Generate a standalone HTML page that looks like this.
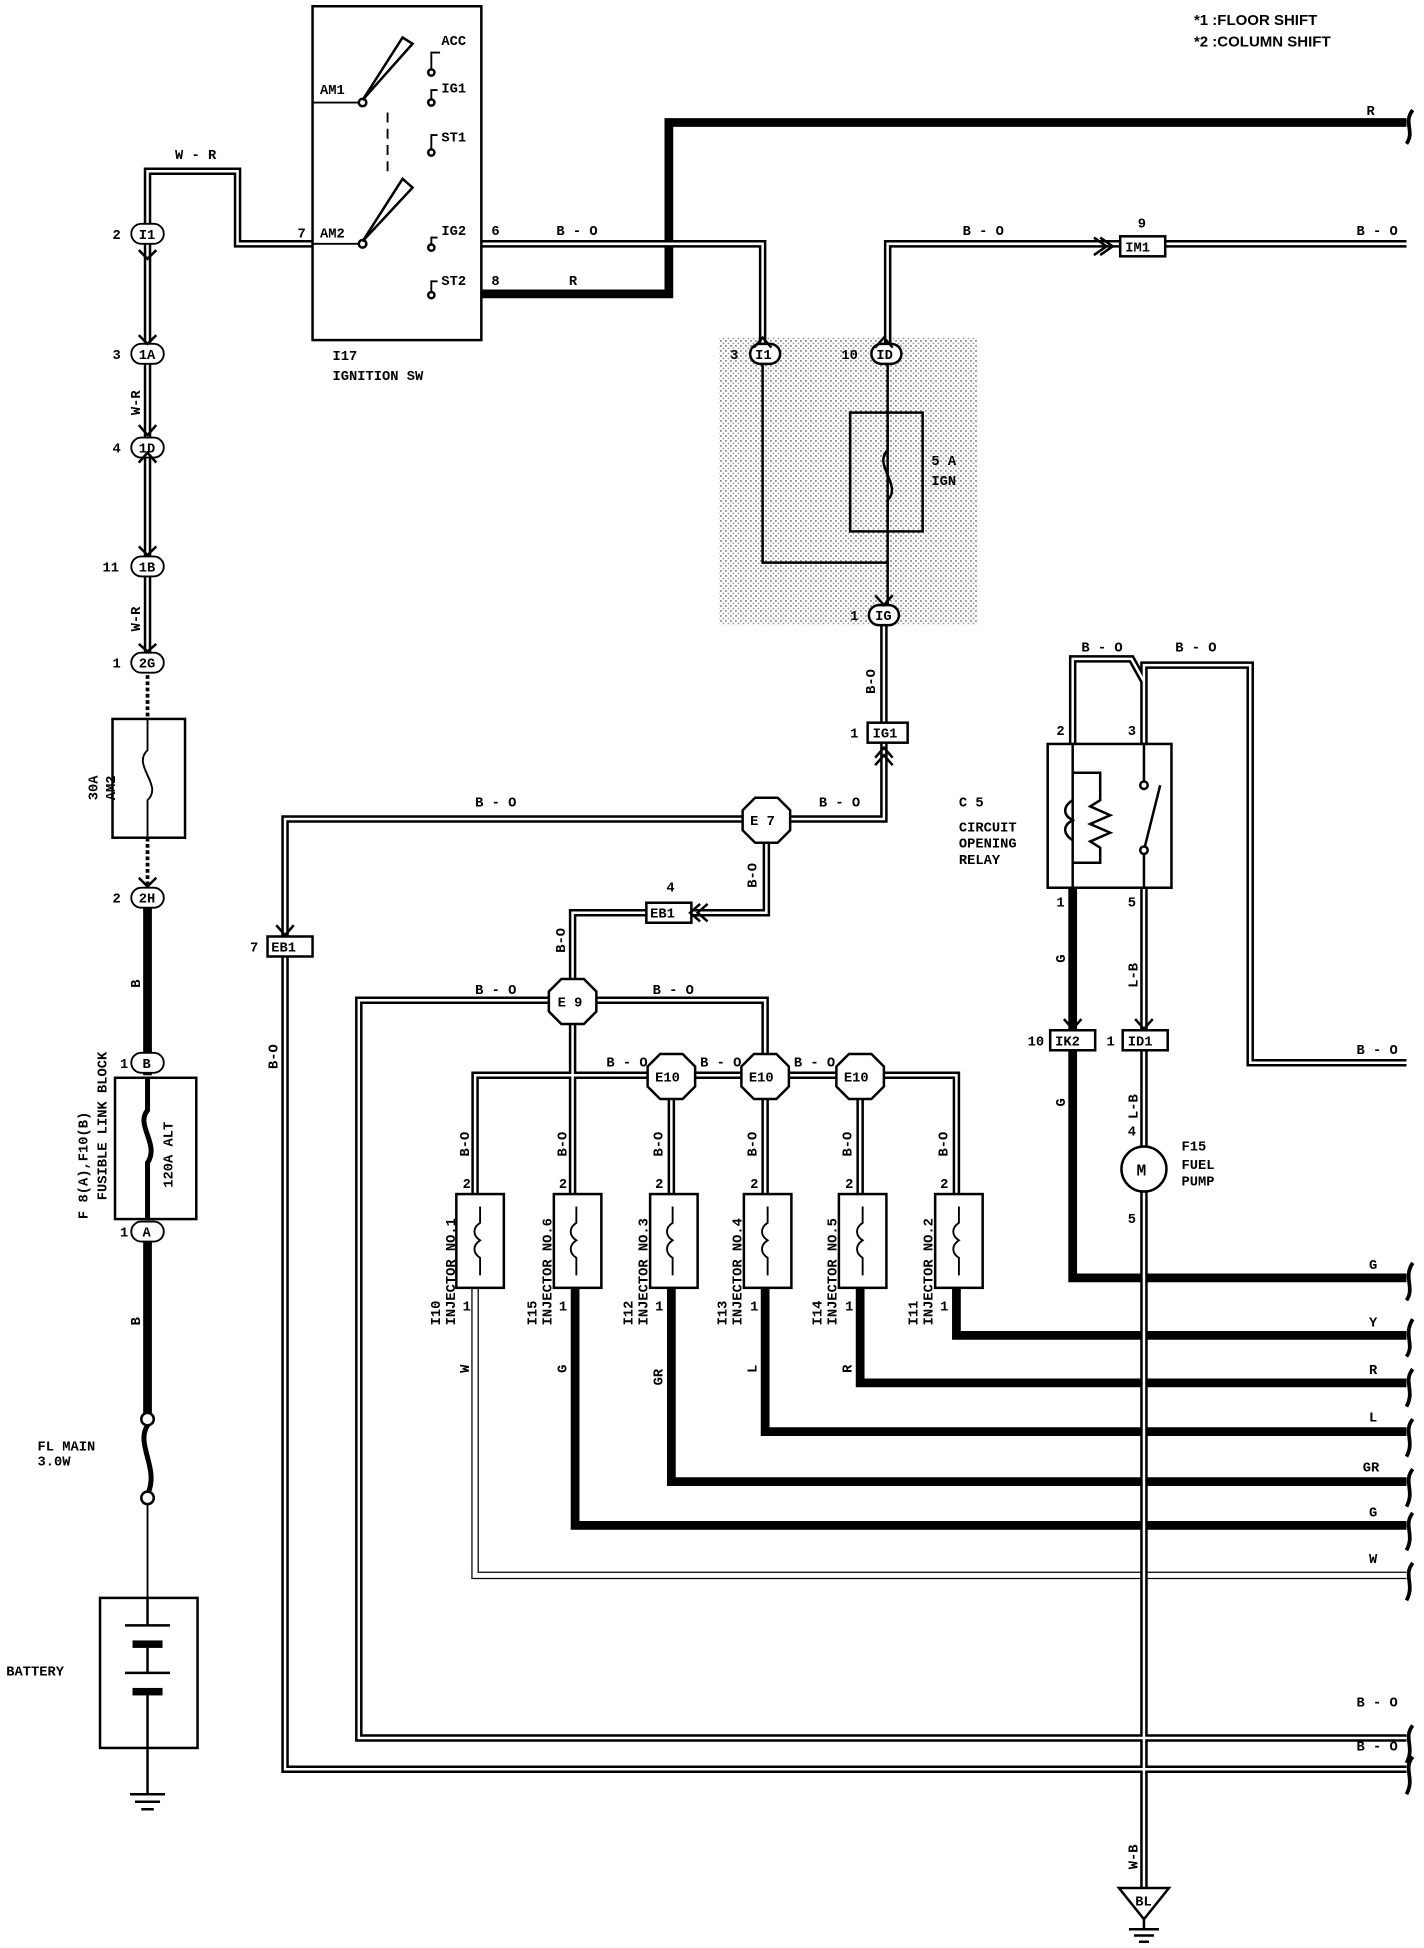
<!DOCTYPE html>
<html><head><meta charset="utf-8"><style>
html,body{margin:0;padding:0;background:#fff}
svg{display:block}
text{font-family:"Liberation Mono",monospace;font-weight:bold;font-size:11px;fill:#000}
.dw1{fill:none;stroke:#000;stroke-width:6}
.dw2{fill:none;stroke:#fff;stroke-width:2}
.tk{fill:none;stroke:#000;stroke-width:7}
.tn{fill:none;stroke:#000;stroke-width:1.5}
.bx{fill:#fff;stroke:#000;stroke-width:2}
</style></head><body>
<svg width="1424" height="1948" viewBox="0 0 1139 1558" preserveAspectRatio="none" xmlns="http://www.w3.org/2000/svg">
<defs>
<pattern id="dots" width="4" height="4" patternUnits="userSpaceOnUse"><rect width="4" height="4" fill="#fff"/><rect x="0" y="0" width="1.3" height="1.3" fill="#777"/><rect x="2" y="2" width="1.3" height="1.3" fill="#999"/></pattern>
<path id="w1" d="M250,195 H190 V137 H118 V530"/>
<path id="w2" d="M385,195 H610 V283"/>
<path id="w3" d="M710,283 V195 H1125"/>
<path id="w4" d="M707,492 V655 H228 V1415 H1125"/>
<path id="w5" d="M613,655 V730 H458 V800"/>
<path id="w6" d="M458,800 H287 V1390 H1125"/>
<path id="w7" d="M458,800 H612 V860"/>
<path id="w8" d="M458,800 V955"/>
<path id="w9" d="M380,955 V860 H765 V955"/>
<path id="w10" d="M537,860 V955 M612,860 V955 M688,860 V955"/>
<path id="w11" d="M858,595 V527 H905 L915,545 V595 M915,545 V532 H1000 V850 H1125"/>
<path id="w12" d="M915,710 V918"/>
<path id="w13" d="M915,952 V1510"/>
</defs>
<text x="955" y="20" style="font-family:'Liberation Sans',sans-serif;font-size:12px">*1 :FLOOR SHIFT</text>
<text x="955" y="37" style="font-family:'Liberation Sans',sans-serif;font-size:12px">*2 :COLUMN SHIFT</text>
<rect x="575" y="270" width="207" height="230" fill="url(#dots)"/>
<path class="tk" d="M385,235 H535 V98 H1125"/>
<text x="1093" y="92">R</text><text x="455" y="228">R</text><text x="393" y="228">8</text>
<path class="tk" d="M118,718 V860"/>
<path class="tk" d="M118,985 V1130"/>
<path class="tk" d="M858,710 V1022 H1125"/>
<path class="tk" d="M765,1030 V1068 H1125"/>
<path class="tk" d="M688,1030 V1106 H1125"/>
<path class="tk" d="M612,1030 V1145 H1125"/>
<path class="tk" d="M537,1030 V1185 H1125"/>
<path class="tk" d="M460,1030 V1220 H1125"/>
<path d="M380,1030 V1260 H1125" class="dw1"/><path d="M380,1030 V1260 H1125" class="dw2" style="stroke-width:4"/>
<g class="dw1"><use href="#w1"/><use href="#w2"/><use href="#w3"/><use href="#w4"/><use href="#w5"/><use href="#w6"/><use href="#w7"/><use href="#w8"/><use href="#w9"/><use href="#w10"/><use href="#w11"/><use href="#w12"/><use href="#w13"/></g>
<g class="dw2"><use href="#w1"/><use href="#w2"/><use href="#w3"/><use href="#w4"/><use href="#w5"/><use href="#w6"/><use href="#w7"/><use href="#w8"/><use href="#w9"/><use href="#w10"/><use href="#w11"/><use href="#w12"/><use href="#w13"/></g>
<path d="M118,530 V575 M118,670 V718" class="tn" style="stroke-width:3;stroke-dasharray:3 2"/>
<text x="140" y="127">W - R</text>
<text x="445" y="188">B - O</text><text x="770" y="188">B - O</text><text x="1085" y="188">B - O</text>
<text x="380" y="645">B - O</text><text x="655" y="645">B - O</text>
<text x="380" y="795">B - O</text><text x="522" y="795">B - O</text>
<text x="485" y="853">B - O</text><text x="560" y="853">B - O</text><text x="635" y="853">B - O</text>
<text x="865" y="521">B - O</text><text x="940" y="521">B - O</text>
<text x="1085" y="843">B - O</text>
<text x="1085" y="1365">B - O</text><text x="1085" y="1400">B - O</text>
<text x="1095" y="1015">G</text><text x="1095" y="1061">Y</text><text x="1095" y="1099">R</text><text x="1095" y="1137">L</text><text x="1090" y="1177">GR</text><text x="1095" y="1213">G</text><text x="1095" y="1250">W</text>
<g>
<text transform="translate(112,332) rotate(-90)">W-R</text>
<text transform="translate(112,505) rotate(-90)">W-R</text>
<text transform="translate(112,790) rotate(-90)">B</text>
<text transform="translate(112,1060) rotate(-90)">B</text>
<text transform="translate(222,855) rotate(-90)">B-O</text>
<text transform="translate(700,555) rotate(-90)">B-O</text>
<text transform="translate(605,710) rotate(-90)">B-O</text>
<text transform="translate(452,762) rotate(-90)">B-O</text>
<text transform="translate(852,770) rotate(-90)">G</text>
<text transform="translate(852,885) rotate(-90)">G</text>
<text transform="translate(910,790) rotate(-90)">L-B</text>
<text transform="translate(910,895) rotate(-90)">L-B</text>
<text transform="translate(910,1495) rotate(-90)">W-B</text>
<text transform="translate(375,925) rotate(-90)">B-O</text>
<text transform="translate(453,925) rotate(-90)">B-O</text>
<text transform="translate(530,925) rotate(-90)">B-O</text>
<text transform="translate(605,925) rotate(-90)">B-O</text>
<text transform="translate(681,925) rotate(-90)">B-O</text>
<text transform="translate(758,925) rotate(-90)">B-O</text>
<text transform="translate(375,1098) rotate(-90)">W</text>
<text transform="translate(453,1098) rotate(-90)">G</text>
<text transform="translate(530,1108) rotate(-90)">GR</text>
<text transform="translate(605,1098) rotate(-90)">L</text>
<text transform="translate(681,1098) rotate(-90)">R</text>
</g>
<rect class="bx" x="250" y="5" width="135" height="267"/>
<text x="256" y="75">AM1</text><text x="256" y="190">AM2</text><text x="238" y="190">7</text>
<path class="tn" d="M250,82 H288 M250,195 H288"/>
<circle cx="290" cy="82" r="3" class="bx"/><circle cx="290" cy="195" r="3" class="bx"/>
<path d="M290,80 L322,30 L330,35 Z M290,193 L322,143 L330,150 Z" fill="#fff" stroke="#000" stroke-width="2"/>
<path d="M310,90 V140" class="tn" style="stroke-dasharray:8 5"/>
<text x="353" y="36">ACC</text><text x="353" y="74">IG1</text><text x="353" y="113">ST1</text><text x="353" y="188">IG2</text><text x="353" y="228">ST2</text>
<path class="tn" d="M345,55 V42 H352 M345,80 V72 H350 M345,120 V108 H350 M345,198 V190 H350 M345,235 V225 H350"/>
<circle cx="345" cy="58" r="2.5" class="bx"/><circle cx="345" cy="82" r="2.5" class="bx"/><circle cx="345" cy="122" r="2.5" class="bx"/><circle cx="345" cy="198" r="2.5" class="bx"/><circle cx="345" cy="236" r="2.5" class="bx"/>
<text x="393" y="188">6</text>
<text x="266" y="288">I17</text><text x="266" y="304">IGNITION SW</text>
<g class="bx" style="stroke-width:1.5">
<rect x="105" y="179" width="26" height="16" rx="8"/><rect x="105" y="275" width="26" height="16" rx="8"/><rect x="105" y="350" width="26" height="16" rx="8"/><rect x="105" y="445" width="26" height="16" rx="8"/><rect x="105" y="522" width="26" height="16" rx="8"/><rect x="105" y="710" width="26" height="16" rx="8"/><rect x="105" y="842" width="26" height="16" rx="8"/><rect x="105" y="977" width="26" height="16" rx="8"/>
</g>
<text x="111" y="191">I1</text><text x="90" y="191">2</text>
<text x="111" y="287">1A</text><text x="90" y="287">3</text>
<text x="111" y="362">1D</text><text x="90" y="362">4</text>
<text x="111" y="457">1B</text><text x="82" y="457">11</text>
<text x="111" y="534">2G</text><text x="90" y="534">1</text>
<text x="111" y="722">2H</text><text x="90" y="722">2</text>
<text x="114" y="854">B</text><text x="96" y="854">1</text>
<text x="114" y="989">A</text><text x="96" y="989">1</text>
<rect class="bx" x="90" y="575" width="58" height="95"/>
<path class="tn" d="M118,575 V600 C105,612 131,628 118,640 V670"/>
<text transform="translate(78,640) rotate(-90)">30A</text><text transform="translate(92,640) rotate(-90)">AM2</text>
<rect class="bx" x="92" y="862" width="65" height="113"/>
<path class="tn" d="M118,862 V888 C108,900 128,915 118,930 V975" style="stroke-width:4"/>
<text transform="translate(138,950) rotate(-90)">120A ALT</text>
<text transform="translate(70,975) rotate(-90)">F 8(A),F10(B)</text>
<text transform="translate(85,960) rotate(-90)">FUSIBLE LINK BLOCK</text>
<path class="tn" d="M118,1130 V1140 C108,1155 128,1175 118,1195 V1200" style="stroke-width:4"/>
<circle cx="118" cy="1135" r="5" class="bx"/><circle cx="118" cy="1198" r="5" class="bx"/>
<text x="30" y="1160">FL MAIN</text><text x="30" y="1172">3.0W</text>
<path class="tn" d="M118,1203 V1278"/>
<rect class="bx" x="80" y="1278" width="78" height="120"/>
<path class="tn" d="M118,1278 V1300 M100,1300 H136 M118,1318 V1338 M100,1338 H136 M118,1356 V1375 M118,1375 V1435" style="stroke-width:2"/>
<rect x="106" y="1312" width="24" height="6" fill="#000"/><rect x="106" y="1350" width="24" height="6" fill="#000"/>
<text x="5" y="1340">BATTERY</text>
<path class="tn" d="M104,1435 H132 M108,1441 H128 M113,1447 H123" style="stroke-width:2"/>
<rect x="600" y="275" width="24" height="16" rx="8" class="bx"/><text x="604" y="287">I1</text><text x="584" y="287">3</text>
<rect x="697" y="275" width="24" height="16" rx="8" class="bx"/><text x="701" y="287">ID</text><text x="673" y="287">10</text>
<path class="tn" d="M610,291 V450 H710 M710,291 V484" style="stroke-width:2"/>
<rect class="bx" x="680" y="330" width="58" height="95" style="fill:none"/>
<path class="tn" d="M710,340 V360 C698,372 722,388 710,400 V420" style="stroke-width:2"/>
<text x="745" y="372">5 A</text><text x="745" y="388">IGN</text>
<rect x="695" y="484" width="24" height="16" rx="8" class="bx"/><text x="700" y="496">IG</text><text x="680" y="496">1</text>
<rect x="694" y="578" width="32" height="16" class="bx"/><text x="698" y="590">IG1</text><text x="680" y="590">1</text>
<rect x="896" y="189" width="36" height="16" class="bx"/><text x="900" y="201">IM1</text><text x="910" y="182">9</text>
<rect x="214" y="749" width="36" height="16" class="bx"/><text x="217" y="761">EB1</text><text x="200" y="761">7</text>
<rect x="517" y="722" width="36" height="16" class="bx"/><text x="520" y="734">EB1</text><text x="533" y="713">4</text>
<rect x="840" y="824" width="36" height="16" class="bx"/><text x="844" y="836">IK2</text><text x="822" y="836">10</text>
<rect x="898" y="824" width="36" height="16" class="bx"/><text x="902" y="836">ID1</text><text x="885" y="836">1</text>
<g class="bx">
<polygon points="604,638 622,638 632,648 632,664 622,674 604,674 594,664 594,648"/>
<polygon points="449,783 467,783 477,793 477,809 467,819 449,819 439,809 439,793"/>
<polygon points="528,843 546,843 556,853 556,869 546,879 528,879 518,869 518,853"/>
<polygon points="603,843 621,843 631,853 631,869 621,879 603,879 593,869 593,853"/>
<polygon points="679,843 697,843 707,853 707,869 697,879 679,879 669,869 669,853"/>
</g>
<text x="600" y="660">E 7</text><text x="446" y="805">E 9</text>
<text x="524" y="865">E10</text><text x="599" y="865">E10</text><text x="675" y="865">E10</text>
<g>
<rect class="bx" x="365" y="955" width="38" height="75"/><rect class="bx" x="443" y="955" width="38" height="75"/><rect class="bx" x="520" y="955" width="38" height="75"/><rect class="bx" x="595" y="955" width="38" height="75"/><rect class="bx" x="671" y="955" width="38" height="75"/><rect class="bx" x="748" y="955" width="38" height="75"/>
</g>
<g class="tn">
<path d="M384,965 V978 C378,982 378,988 384,992 C378,996 378,1002 384,1006 V1020 M461,965 V978 C455,982 455,988 461,992 C455,996 455,1002 461,1006 V1020 M538,965 V978 C532,982 532,988 538,992 C532,996 532,1002 538,1006 V1020 M614,965 V978 C608,982 608,988 614,992 C608,996 608,1002 614,1006 V1020 M690,965 V978 C684,982 684,988 690,992 C684,996 684,1002 690,1006 V1020 M767,965 V978 C761,982 761,988 767,992 C761,996 761,1002 767,1006 V1020"/>
</g>
<text x="370" y="950">2</text><text x="447" y="950">2</text><text x="524" y="950">2</text><text x="600" y="950">2</text><text x="676" y="950">2</text><text x="752" y="950">2</text>
<text x="370" y="1048">1</text><text x="447" y="1048">1</text><text x="524" y="1048">1</text><text x="600" y="1048">1</text><text x="676" y="1048">1</text><text x="752" y="1048">1</text>
<text transform="translate(352,1060) rotate(-90)">I10</text><text transform="translate(364,1060) rotate(-90)">INJECTOR NO.1</text>
<text transform="translate(429,1060) rotate(-90)">I15</text><text transform="translate(441,1060) rotate(-90)">INJECTOR NO.6</text>
<text transform="translate(506,1060) rotate(-90)">I12</text><text transform="translate(518,1060) rotate(-90)">INJECTOR NO.3</text>
<text transform="translate(581,1060) rotate(-90)">I13</text><text transform="translate(593,1060) rotate(-90)">INJECTOR NO.4</text>
<text transform="translate(657,1060) rotate(-90)">I14</text><text transform="translate(669,1060) rotate(-90)">INJECTOR NO.5</text>
<text transform="translate(734,1060) rotate(-90)">I11</text><text transform="translate(746,1060) rotate(-90)">INJECTOR NO.2</text>
<rect class="bx" x="838" y="595" width="99" height="115"/>
<path class="tn" d="M858,595 V710 M858,618 H880 V640 L872,645 L888,652 L872,659 L888,666 L872,673 L880,678 V690 H858 M915,595 V625 M915,680 V710 M915,680 L928,628" style="stroke-width:2"/>
<path class="tn" d="M858,640 C850,645 850,652 858,656 C850,660 850,667 858,672" style="stroke-width:2"/>
<circle cx="915" cy="628" r="3" class="bx"/><circle cx="915" cy="680" r="3" class="bx"/>
<text x="845" y="588">2</text><text x="902" y="588">3</text><text x="845" y="725">1</text><text x="902" y="725">5</text>
<text x="767" y="645">C 5</text><text x="767" y="665">CIRCUIT</text><text x="767" y="678">OPENING</text><text x="767" y="691">RELAY</text>
<circle cx="915" cy="935" r="18" class="bx"/><text x="909" y="940" style="font-size:13px">M</text>
<text x="902" y="908">4</text><text x="902" y="978">5</text>
<text x="945" y="920">F15</text><text x="945" y="935">FUEL</text><text x="945" y="948">PUMP</text>
<path class="bx" d="M895,1510 H935 L915,1535 Z"/><text x="908" y="1524">BL</text>
<path class="tn" d="M915,1535 V1543 M903,1543 H927 M907,1548 H923 M911,1553 H919" style="stroke-width:2"/>
<g class="tn" style="stroke-width:2">
<path d="M875,190 L885,197 L875,204 M880,190 L890,197 L880,204"/>
<path d="M603,278 L610,270 L617,278 M700,278 L707,270 L714,278 M700,476 L707,484 L714,476 M700,606 L707,598 L714,606 M700,612 L707,604 L714,612"/>
<path d="M221,740 L228,748 L235,740 M560,723 L552,730 L560,737 M566,723 L558,730 L566,737 M851,815 L858,823 L865,815 M908,815 L915,823 L922,815"/>
<path d="M111,200 L118,207 L125,200 M111,268 L118,275 L125,268 M111,340 L118,348 L125,340 M111,370 L118,362 L125,370 M111,437 L118,444 L125,437 M111,515 L118,521 L125,515 M111,702 L118,709 L125,702"/>
</g>
<path class="tn" style="stroke-width:3" d="M1130,88 C1122,98 1132,105 1125,115 M1130,1010 C1122,1022 1132,1030 1125,1040 M1130,1055 C1122,1068 1132,1075 1125,1085 M1130,1095 C1122,1105 1132,1112 1125,1125 M1130,1135 C1122,1145 1132,1152 1125,1165 M1130,1175 C1122,1185 1132,1192 1125,1205 M1130,1210 C1122,1220 1132,1227 1125,1240 M1130,1250 C1122,1260 1132,1267 1125,1280 M1130,1380 C1122,1390 1132,1397 1125,1410 M1130,1405 C1122,1415 1132,1422 1125,1435"/>
</svg>
</body></html>
